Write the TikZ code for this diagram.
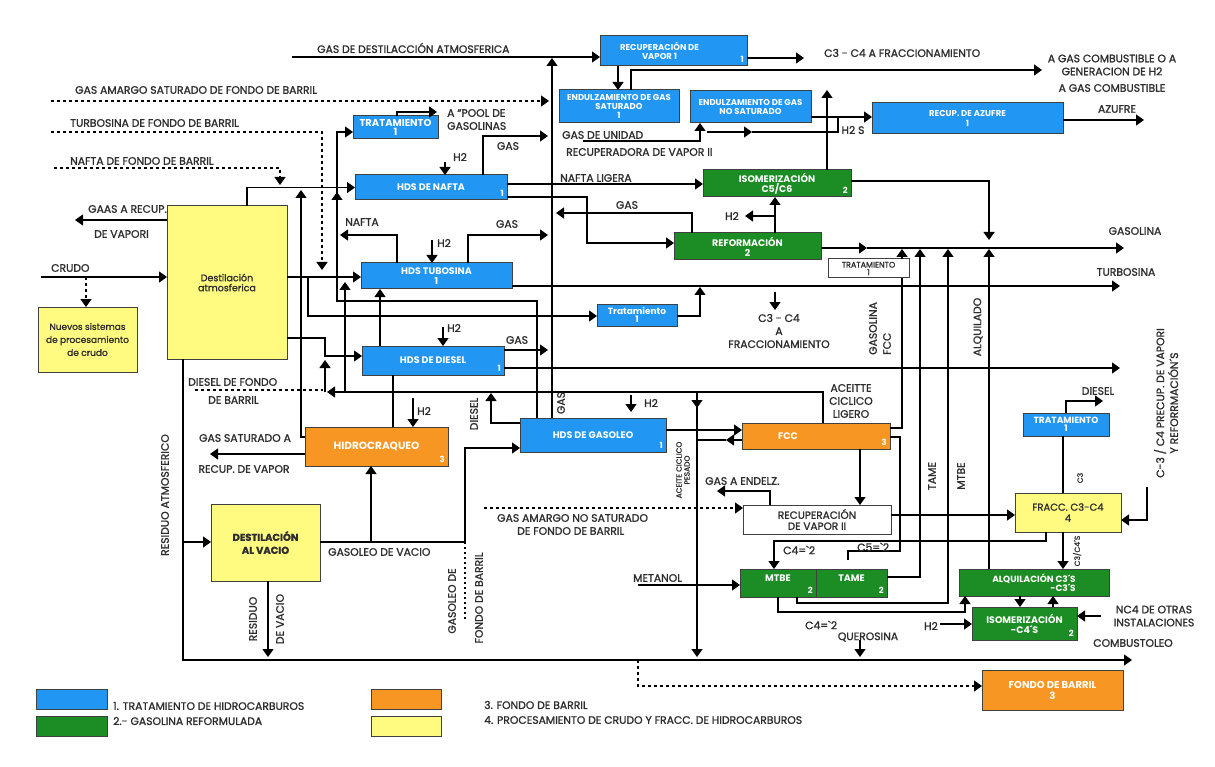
\documentclass[tikz,border=0pt]{standalone}
\usepackage{fontspec}
\setmainfont{Poppins}
\newfontfamily\lblfam{Poppins}[FakeBold=1.2]
\usetikzlibrary{arrows.meta}

\definecolor{hdsblue}{RGB}{33,150,243}
\definecolor{gasgreen}{RGB}{28,140,36}
\definecolor{fondoorange}{RGB}{247,150,34}
\definecolor{crudoyellow}{RGB}{255,250,128}
\definecolor{ink}{RGB}{45,45,45}

\tikzset{
  unitbox/.style={draw=black!75, line width=1pt, anchor=north west, inner sep=0pt, outer sep=0pt,
    align=center, text=white, font=\bfseries\fontsize{9.5}{10}\selectfont},
  hdsbox/.style={unitbox, fill=hdsblue},
  gasbox/.style={unitbox, fill=gasgreen},
  fondobox/.style={unitbox, fill=fondoorange},
  crudobox/.style={unitbox, fill=crudoyellow, text=ink, font=\lblfam\fontsize{9.5}{10}\selectfont},
  plainbox/.style={unitbox, fill=white, text=ink, font=\lblfam\fontsize{10.5}{11}\selectfont},
  wh/.style 2 args={minimum width=#1, minimum height=#2},
  smalltxt/.style={font=\bfseries\fontsize{8.5}{9.5}\selectfont},
  midtxt/.style={font=\bfseries\fontsize{9}{8.5}\selectfont},
  no/.style={label={[num]south east:#1}},
  num/.style={anchor=south east, inner sep=3pt, font=\bfseries\fontsize{8.5}{8.5}\selectfont, text=white},
  lbl/.style={inner sep=0pt, text=ink, font=\lblfam\fontsize{10.8}{13}\selectfont},
  tinylbl/.style={lbl, font=\lblfam\fontsize{7.5}{8}\selectfont},
  pipe/.style={line width=1.3pt},
  flow/.style={pipe, -{Triangle[width=11pt,length=8pt]}},
  dflow/.style={flow, dash pattern=on 3pt off 3pt},
  dpipe/.style={pipe, dash pattern=on 3pt off 3pt},
}

\begin{document}
\begin{tikzpicture}[x=1pt, y=-1pt]
\fill[white] (0,0) rectangle (1215,767);
\useasboundingbox (0,0) rectangle (1215,767);

% units
\node[hdsbox, smalltxt, wh={147}{30}, no=1] (recv1) at (600,36) {RECUPERACIÓN DE\hspace*{28pt}\\VAPOR 1\hspace*{28pt}};
\node[hdsbox, smalltxt, font=\bfseries\fontsize{8.5}{9}\selectfont, wh={120}{33}] (endsat) at (559,90) {ENDULZAMIENTO DE GAS\\SATURADO\\1};
\node[hdsbox, smalltxt, wh={121}{32}] (endns) at (690,91) {ENDULZAMIENTO DE GAS\\NO SATURADO};
\node[hdsbox, smalltxt, wh={191}{31}] (azufre) at (872,103) {RECUP. DE AZUFRE\\1};
\node[hdsbox, font=\bfseries\fontsize{10}{8.5}\selectfont, wh={85}{23}] (trat1) at (353,116) {TRATAMIENTO\\1};
\node[hdsbox, wh={152}{25}, no=1] (hdsn) at (355,175) {HDS DE NAFTA};
\node[gasbox, wh={148}{27}, no=2] (isom) at (703,170) {ISOMERIZACIÓN\\C5/C6};
\node[gasbox, wh={147}{27}] (reform) at (674,233) {REFORMACIÓN\\2};
\node[plainbox, font=\lblfam\fontsize{8}{7.5}\selectfont, wh={81}{19}] (tratw) at (828,259) {TRATAMIENTO\\1};
\node[crudobox, wh={120}{153}] (datm) at (167,206) {Destilación\\atmosferica};
\node[crudobox, font=\lblfam\fontsize{9}{13}\selectfont, wh={99}{65}] (nuevos) at (38,307) {Nuevos sistemas\\de procesamiento\\de crudo};
\node[hdsbox, wh={151}{26}] (hdst) at (361,263) {HDS TUBOSINA\\1};
\node[hdsbox, midtxt, wh={80}{22}] (tratm) at (597,304) {Tratamiento\\1};
\node[hdsbox, wh={142}{29}, no=1] (hdsd) at (362,346) {HDS DE DIESEL};
\node[fondobox, font=\bfseries\fontsize{10.5}{11}\selectfont, wh={143}{39}, no=3] (hcraq) at (305,427) {HIDROCRAQUEO};
\node[hdsbox, wh={146}{34}, no=1] (hdsg) at (520,418) {HDS DE GASOLEO};
\node[fondobox, wh={148}{26}, no=3] (fcc) at (742,423) {FCC\hspace*{56pt}};
\node[hdsbox, midtxt, wh={86}{23}] (tratr) at (1023,413) {TRATAMIENTO\\1};
\node[crudobox, font=\lblfam\fontsize{10}{11}\selectfont, wh={106}{39}] (fracc) at (1015,493) {FRACC. C3-C4\\4};
\node[plainbox, wh={148}{29}] (recv2) at (743,505) {RECUPERACIÓN\\DE VAPOR II};
\node[gasbox, wh={76}{28}, no=2] (mtbe) at (740,569) {MTBE\\~};
\node[gasbox, wh={71}{28}, no=2] (tame) at (816,569) {TAME\\~};
\node[gasbox, font=\bfseries\fontsize{9}{9}\selectfont, align=right, wh={150}{27}] (alq) at (959,569) {ALQUILACIÓN C3´S\\-C3´S};
\node[gasbox, wh={105}{33}, no=2] (isoc4) at (972,607) {ISOMERIZACIÓN\\-C4´S};
\node[fondobox, font=\bfseries\fontsize{10}{11}\selectfont, wh={141}{40}] (fondo) at (982,670) {FONDO DE BARRIL\\3};
\node[crudobox, font=\lblfam\bfseries\fontsize{10}{13}\selectfont, wh={109}{77}] (dvac) at (211,504) {DESTILACIÓN\\AL VACIO};

% free ends
\coordinate (gasin) at (292,57);
\coordinate (gastop) at (552,58);
\coordinate (c3out) at (804,58);
\coordinate (gcout) at (1042,70);
\coordinate (amargoin) at (51,101);
\coordinate (amargoend) at (549,101);
\coordinate (turbofbin) at (51,132);
\coordinate (turbofbend) at (322,270);
\coordinate (naftafbin) at (54,168);
\coordinate (naftafbend) at (280,185);
\coordinate (poolout) at (437,112);
\coordinate (h2a) at (445,162);
\coordinate (gasa) at (548,136);
\coordinate (gasr) at (556,213);
\coordinate (h2r) at (745,216);
\coordinate (isotop) at (827,90);
\coordinate (isodown) at (989,240);
\coordinate (h2sj) at (707,132);
\coordinate (h2sm) at (752,132);
\coordinate (unidad) at (583,141);
\coordinate (azout) at (1144,120);
\coordinate (gasolmid) at (867,248);
\coordinate (gasolout) at (1124,248);
\coordinate (turbout) at (1120,286);
\coordinate (dieselout) at (1120,368);
\coordinate (naftaout) at (340,235);
\coordinate (h2t) at (432,240);
\coordinate (gast) at (548,235);
\coordinate (lcoend) at (327,392);
\coordinate (tubofeed) at (345,282);
\coordinate (dfbin) at (195,390);
\coordinate (dfbup) at (325,360);
\coordinate (h2d) at (443,327);
\coordinate (gasd) at (548,350);
\coordinate (h2h) at (413,398);
\coordinate (gasvapout) at (210,454);
\coordinate (hcraqup) at (301,190);
\coordinate (naftaup) at (337,192);
\coordinate (h2g) at (631,395);
\coordinate (h2gend) at (631,412);
\coordinate (hcoend) at (726,440);
\coordinate (hcotip) at (697,657);
\coordinate (endelz) at (717,491);
\coordinate (amargo2in) at (484,508);
\coordinate (metanolin) at (638,585);
\coordinate (c3c4down) at (775,292);
\coordinate (c3c4tip) at (775,310);
\coordinate (precupin) at (1147,487);
\coordinate (dieselr) at (1103,401);
\coordinate (h2i) at (940,624);
\coordinate (nc4in) at (1101,616);
\coordinate (crudoin) at (41,277);
\coordinate (gaasout) at (75,220);
\coordinate (combout) at (1132,660);
\coordinate (resvac) at (268,657);
\coordinate (querosin) at (860,640);
\coordinate (querostip) at (860,657);
\coordinate (fondojoint) at (638,660);
\coordinate (gfbend) at (465,621);

% streams
\draw[flow] (gasin) -- (recv1.west |- gasin);
\draw[flow] (hdsg.north -| gastop) -- (gastop);
\draw[flow] (recv1.east |- c3out) -- (c3out);
\draw[flow] (recv1.south -| 618,0) -- (endsat.north -| 618,0);
\draw[flow] (endsat.north -| 631,0) |- (gcout);
\draw[dflow] (amargoin) -- (amargoend);
\draw[dflow] (turbofbin) -| (turbofbend);
\draw[dflow] (naftafbin) -| (naftafbend);
\draw[flow] (datm.north -| 247,0) |- (hdsn.west);
\draw[flow] (hcraq.west |- 0,437) -| (hcraqup);
\draw[flow] (hcraq.west |- gasvapout) -- (gasvapout);
\draw[flow] (hdsg.north -| 537,0) |- (337,301) |- (trat1.west |- 0,132);
\draw[flow] (337,214) -- (naftaup);
\draw[flow] (trat1.north -| 397,0) |- (poolout);
\draw[flow] (h2a) -- (hdsn.north -| h2a);
\draw[flow] (hdsn.north -| 483,0) |- (gasa);
\draw[flow] (hdsn.east |- 0,184) -- (isom.west |- 0,184);
\draw[flow] (hdsn.east |- 0,197) -| (587,243) -- (reform.west |- 0,243);
\draw[flow] (reform.north -| 692,0) |- (gasr);
\draw[flow] (reform.north -| 775,0) -- (isom.south -| 775,0);
\draw[flow] (775,216) -- (h2r);
\draw[flow] (isom.north -| isotop) -- (isotop);
\draw[flow] (isom.east |- 0,181) -| (isodown);
\draw[flow] (endns.east |- 0,117) -- (azufre.west |- 0,117);
\draw[pipe] (838,117) |- (h2sm);
\draw[flow] (h2sj) -- (h2sm);
\draw[flow] (unidad) -| (endns.south -| 700,0);
\draw[flow] (azufre.east |- azout) -- (azout);
\draw[flow] (reform.east |- gasolmid) -- (gasolmid);
\draw[flow] (gasolmid) -- (gasolout);
\draw[flow] (tratw.north -| 902,0) -- (902,249);
\draw[pipe] (fcc.east |- 0,428) -| (tratw.south -| 902,0);
\draw[flow] (tame.east |- 0,577) -| (920,249);
\draw[flow] (mtbe.south -| 797,0) |- (948,603) -- (948,249);
\draw[flow] (alq.north -| 989,0) -- (989,249);
\draw[flow] (hdst.east |- turbout) -- (turbout);
\draw[flow] (hdsd.east |- dieselout) -- (dieselout);
\draw[flow] (tratm.east |- 0,316) -| (700,287);
\draw[flow] (datm.east |- 0,277) -- (hdst.west |- 0,277);
\draw[flow] (308,277) |- (tratm.west |- 0,316);
\draw[flow] (hdst.north -| 397,0) |- (naftaout);
\draw[flow] (h2t) -- (hdst.north -| h2t);
\draw[flow] (hdst.north -| 468,0) |- (gast);
\draw[flow] (fcc.north -| 823,0) |- (lcoend);
\draw[flow] (345,392) -- (tubofeed);
\draw[flow] (hdsd.north -| 380,0) -- (hdst.south -| 380,0);
\draw[flow] (datm.east |- 0,338) -| (325,356) -- (hdsd.west |- 0,356);
\draw[dpipe] (dfbin) -- (323,390);
\draw[flow] (325,392) -- (dfbup);
\draw[flow] (h2d) -- (hdsd.north -| h2d);
\draw[flow] (hdsd.east |- gasd) -- (gasd);
\draw[pipe] (hcraq.north -| 393,0) -- (hdsd.south -| 393,0);
\draw[flow] (h2h) -- (hcraq.north -| h2h);
\draw[flow] (hdsg.west |- 0,423) -| (491,393);
\draw[flow] (hdsg.east |- 0,430) -- (fcc.west |- 0,430);
\draw[flow] (fcc.west |- hcoend) -- (hcoend);
\draw[pipe] (hcoend) -- (697,440);
\draw[flow] (697,392) -- (hcotip);
\draw[flow] (697,392) -- (697,408);
\draw[flow] (h2g) -- (h2gend);
\draw[flow] (fcc.south -| 860,0) -- (recv2.north -| 860,0);
\draw[flow] (recv2.north -| 770,0) |- (endelz);
\draw[dflow] (amargo2in) -- (recv2.west |- amargo2in);
\draw[flow] (recv2.east |- 0,515) -- (fracc.west |- 0,515);
\draw[flow] (fracc.south -| 1046,0) |- (774,541) -- (mtbe.north -| 774,0);
\draw[pipe] (fcc.east |- 0,437) -| (900,551) -| (848,560);
\draw[flow] (metanolin) -- (mtbe.west |- metanolin);
\draw[flow] (mtbe.south -| 778,0) |- (965,612) -- (alq.south -| 965,0);
\draw[pipe] (fracc.north -| 1063,0) -- (tratr.south -| 1063,0);
\draw[flow] (tratr.north -| 1066,0) |- (dieselr);
\draw[flow] (precupin) |- (fracc.east |- 0,520);
\draw[flow] (fracc.south -| 1063,0) -- (alq.north -| 1063,0);
\draw[flow] (alq.south -| 1020,0) -- (isoc4.north -| 1020,0);
\draw[flow] (isoc4.north -| 1053,0) -- (alq.south -| 1053,0);
\draw[flow] (h2i) -- (isoc4.west |- h2i);
\draw[flow] (nc4in) -- (isoc4.east |- nc4in);
\draw[flow] (datm.south -| 183,0) |- (combout);
\draw[flow] (183,542) -- (dvac.west |- 0,542);
\draw[flow] (dvac.south -| resvac) -- (resvac);
\draw[pipe] (dvac.east |- 0,542) -- (465,542);
\draw[flow] (465,542) |- (hdsg.west |- 0,448);
\draw[flow] (371,542) -- (hcraq.south -| 371,0);
\draw[pipe, dash pattern=on 2pt off 3pt] (465,542) -- (gfbend);
\draw[flow] (querosin) -- (querostip);
\draw[dflow] (fondojoint) |- (fondo.west |- 0,686);
\draw[flow] (c3c4down) -- (c3c4tip);
\draw[flow] (crudoin) -- (datm.west |- crudoin);
\draw[dflow] (86,277) -- (nuevos.north -| 86,0);
\draw[flow] (datm.west |- gaasout) -- (gaasout);

% stream labels
\node[lbl, anchor=west] (lgasdest) at (317,48) {GAS DE DESTILACCIÓN ATMOSFERICA};
\node[lbl, anchor=west] (lc3c4) at (824,53) {C3 - C4 A FRACCIONAMIENTO};
\node[lbl, align=center] (lgascomb) at (1112,65) {A GAS COMBUSTIBLE O A\\GENERACION DE H2};
\node[lbl] (lgascomb2) at (1112,88) {A GAS COMBUSTIBLE};
\node[lbl, anchor=west] (lamargo) at (75,90) {GAS AMARGO SATURADO DE FONDO DE BARRIL};
\node[lbl, anchor=west] (lturbofb) at (70,123) {TURBOSINA DE FONDO DE BARRIL};
\node[lbl, anchor=west] (lnaftafb) at (70,161) {NAFTA DE FONDO DE BARRIL};
\node[lbl, anchor=west] (lgaas) at (88,209) {GAAS A RECUP.};
\node[lbl, anchor=west] (lvapori) at (94,234) {DE VAPORI};
\node[lbl, anchor=west] (lcrudo) at (51,268) {CRUDO};
\node[lbl, anchor=west] (lpool) at (447,113) {A “POOL DE};
\node[lbl, anchor=west] (lgasolinas) at (447,126) {GASOLINAS};
\node[lbl, anchor=west] (lh2a) at (453,157) {H2};
\node[lbl] (lgasa) at (508,146) {GAS};
\node[lbl, anchor=west] (lnl) at (560,178) {NAFTA LIGERA};
\node[lbl, anchor=west] (lgasu) at (562,135) {GAS DE UNIDAD};
\node[lbl, anchor=west] (lrecup2) at (566,152) {RECUPERADORA DE VAPOR II};
\node[lbl] (lh2s) at (853,130) {H2 S};
\node[lbl] (lazufre) at (1117,109) {AZUFRE};
\node[lbl] (lgasr) at (627,205) {GAS};
\node[lbl, anchor=east] (lh2r) at (739,216) {H2};
\node[lbl] (lgasolina) at (1135,231) {GASOLINA};
\node[lbl] (lnafta) at (362,222) {NAFTA};
\node[lbl, anchor=west] (lh2t) at (437,243) {H2};
\node[lbl] (lgast) at (507,224) {GAS};
\node[lbl] (lturbo) at (1126,272) {TURBOSINA};
\node[lbl, align=center] (lfracc) at (779,331) {C3 - C4\\A\\FRACCIONAMIENTO};
\node[lbl, rotate=90, anchor=west] (lgasfcc) at (873,355) {GASOLINA};
\node[lbl, rotate=90, anchor=west] (lfcc) at (887,355) {FCC};
\node[lbl, rotate=90] (lalq) at (978,327) {ALQUILADO};
\node[lbl, rotate=90] (ltame) at (932,476) {TAME};
\node[lbl, rotate=90] (lmtbe) at (961,476) {MTBE};
\node[lbl, anchor=west] (lh2d) at (447,328) {H2};
\node[lbl] (lgasd) at (517,340) {GAS};
\node[lbl, align=center] (lacl) at (851,401) {ACEITTE\\CICLICO\\LIGERO};
\node[lbl, anchor=west] (ldfb1) at (188,382) {DIESEL DE FONDO};
\node[lbl, anchor=west] (ldfb2) at (208,400) {DE BARRIL};
\node[lbl] (lgassat) at (245,438) {GAS SATURADO A};
\node[lbl] (lrecvap) at (244,469) {RECUP. DE VAPOR};
\node[lbl, anchor=west] (lh2h) at (417,411) {H2};
\node[lbl, rotate=90] (ldiesel) at (474,414) {DIESEL};
\node[lbl, rotate=90] (lgasg) at (561,403) {GAS};
\node[lbl, anchor=west] (lh2g) at (644,403) {H2};
\node[tinylbl, rotate=90, align=center] (lacp) at (683,470) {ACEITE CICLICO\\PESADO};
\node[lbl, anchor=west] (lendelz) at (705,481) {GAS A ENDELZ.};
\node[lbl, anchor=west] (lamargo2a) at (497,518) {GAS AMARGO NO SATURADO};
\node[lbl, anchor=west] (lamargo2b) at (517,531) {DE FONDO DE BARRIL};
\node[tinylbl, rotate=90] (lc3) at (1080,478) {C3};
\node[lbl] (ldieselr) at (1098,391) {DIESEL};
\node[lbl, rotate=90] (lprecup1) at (1160,403) {C-3 / C4 PRECUP. DE VAPORI};
\node[lbl, rotate=90] (lprecup2) at (1173,403) {Y REFORRMACIÓN´S};
\node[tinylbl, rotate=90] (lc3c4s) at (1077,551) {C3/C4´S};
\node[lbl, anchor=west] (lc5) at (857,547) {C5=\textasciigrave2};
\node[lbl, anchor=west] (lc4a) at (783,550) {C4=\textasciigrave2};
\node[lbl, anchor=west] (lmetanol) at (633,578) {METANOL};
\node[lbl, anchor=west] (lc4b) at (805,625) {C4=\textasciigrave2};
\node[lbl] (lquero) at (868,637) {QUEROSINA};
\node[lbl, anchor=east] (lh2i) at (938,626) {H2};
\node[lbl, align=center] (lnc4) at (1154,616) {NC4 DE OTRAS\\INSTALACIONES};
\node[lbl] (lcombus) at (1133,643) {COMBUSTOLEO};
\node[lbl, rotate=90] (lresat) at (165,495) {RESIDUO ATMOSFERICO};
\node[lbl, anchor=west] (lgasvac) at (328,552) {GASOLEO DE VACIO};
\node[lbl, rotate=90] (lgfb1) at (452,601) {GASOLEO DE};
\node[lbl, rotate=90] (lgfb2) at (479,598) {FONDO DE BARRIL};
\node[lbl, rotate=90] (lres) at (253,619) {RESIDUO};
\node[lbl, rotate=90] (ldevac) at (280,619) {DE VACIO};

% legend
\node[hdsbox, wh={71}{20}] (leg1) at (36,689) {};
\node[gasbox, wh={71}{20}] (leg2) at (36,716) {};
\node[fondobox, wh={70}{20}] (leg3) at (371,689) {};
\node[crudobox, wh={70}{20}] (leg4) at (371,716) {};
\node[lbl, anchor=west] (tleg1) at (113,706) {1. TRATAMIENTO DE HIDROCARBUROS};
\node[lbl, anchor=west] (tleg2) at (113,721) {2.- GASOLINA REFORMULADA};
\node[lbl, anchor=west] (tleg3) at (484,705) {3. FONDO DE BARRIL};
\node[lbl, anchor=west] (tleg4) at (484,720) {4. PROCESAMIENTO DE CRUDO Y FRACC. DE HIDROCARBUROS};
\end{tikzpicture}
\end{document}
